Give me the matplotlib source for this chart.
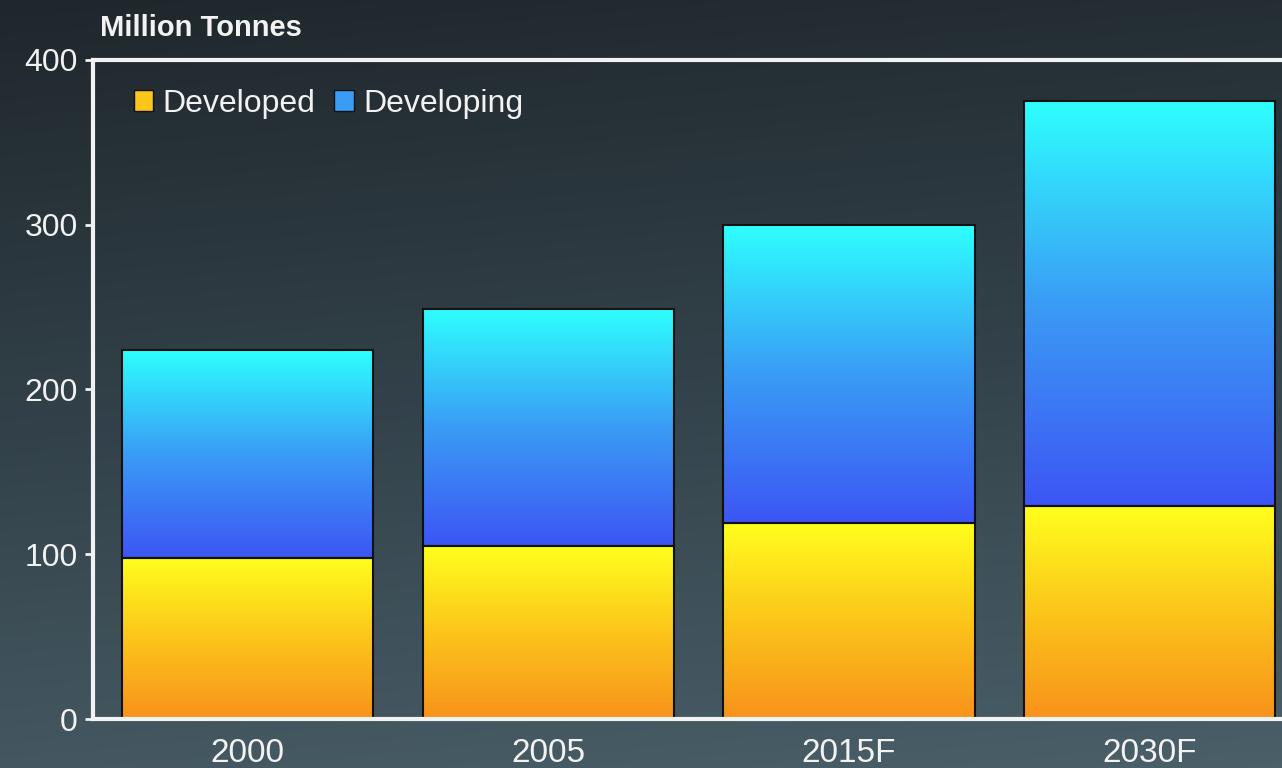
import numpy as np
import matplotlib.pyplot as plt
from matplotlib.colors import LinearSegmentedColormap
from matplotlib.patches import Patch

plt.rcParams['font.family'] = ['Liberation Sans', 'DejaVu Sans']

years = ['2000', '2005', '2015F', '2030F']
developed = [98, 105, 119, 129]
developing = [126, 144, 181, 246]

bg_cmap = LinearSegmentedColormap.from_list('bg', ['#1f272c', '#33424a', '#4a5f68'])
dev_cmap = LinearSegmentedColormap.from_list('dev', ['#f7921c', '#fcc51a', '#ffff1e'])
dvg_cmap = LinearSegmentedColormap.from_list('dvg', ['#3d55f4', '#3a9cf5', '#2effff'])

fig = plt.figure(figsize=(12.82, 7.68), dpi=100)

# background gradient
bg = fig.add_axes([0, 0, 1, 1], zorder=-10)
grad = np.linspace(0, 1, 256).reshape(-1, 1)
grad = grad + 0.15 * np.linspace(0, 1, 256).reshape(1, -1)
bg.imshow(grad, aspect='auto', cmap=bg_cmap, origin='upper', extent=[0, 1, 0, 1])
bg.axis('off')

ax = fig.add_axes([0.0725, 0.0638, 0.9275, 0.8581])
ax.patch.set_alpha(0)

x = np.arange(len(years))
bars1 = ax.bar(x, developed, width=0.835, color='none', edgecolor='#111111', linewidth=1.5, zorder=3)
bars2 = ax.bar(x, developing, width=0.835, bottom=developed, color='none', edgecolor='#111111', linewidth=1.5, zorder=3)

# vertical gradient fill clipped to each bar
vgrad = np.linspace(0, 1, 256).reshape(-1, 1)
for bars, cm in [(bars1, dev_cmap), (bars2, dvg_cmap)]:
    for r in bars:
        x0, y0 = r.get_x(), r.get_y()
        w, h = r.get_width(), r.get_height()
        im = ax.imshow(vgrad, aspect='auto', cmap=cm, origin='lower',
                       extent=[x0, x0 + w, y0, y0 + h], zorder=2)
        im.set_clip_path(r)

ax.set_xlim(-0.514, 3.44)
ax.set_ylim(0, 400)
ax.set_xticks(x)
ax.set_xticklabels(years)
ax.set_yticks([0, 100, 200, 300, 400])

for s in ['left', 'top', 'bottom']:
    ax.spines[s].set_color('#f2f2f2')
    ax.spines[s].set_linewidth(3)
    ax.spines[s].set_zorder(5)
ax.spines['right'].set_visible(False)

ax.tick_params(axis='y', colors='#f2f2f2', labelsize=23, length=6, width=2, pad=5)
ax.tick_params(axis='x', colors='#f2f2f2', labelsize=24, length=0, pad=14)

fig.text(0.078, 0.964, 'Million Tonnes', color='#f2f2f2', fontsize=21,
         fontweight='bold', va='center', ha='left')

handles = [Patch(facecolor='#fcc51a', edgecolor='#111111'),
           Patch(facecolor='#3a9cf5', edgecolor='#111111')]
leg = ax.legend(handles, ['Developed', 'Developing'], loc='upper left', ncol=2,
                frameon=False, fontsize=23, labelcolor='#f2f2f2',
                handlelength=0.6, handleheight=0.6, handletextpad=0.3,
                columnspacing=0.6, bbox_to_anchor=(0.01, 1.0))

fig.savefig('out.png', dpi=100)
